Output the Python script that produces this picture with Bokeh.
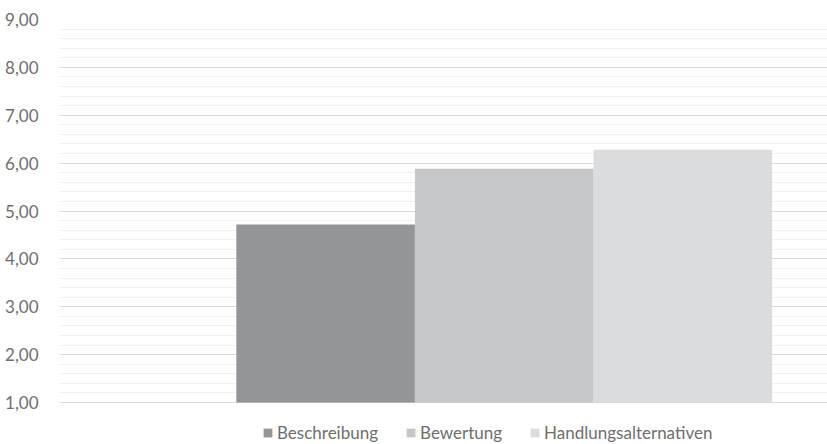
from bokeh.plotting import figure
from bokeh.models import Range1d, FixedTicker, Legend, LegendItem, ColumnDataSource
from bokeh.embed import file_html
from bokeh.resources import INLINE

categories = ["Beschreibung", "Bewertung", "Handlungsalternativen"]
values = [4.72, 5.88, 6.28]
colors = ["#949599", "#c6c7c9", "#dbdcde"]
y_ticks = [1, 2, 3, 4, 5, 6, 7, 8, 9]
y_tick_labels = ["1,00", "2,00", "3,00", "4,00", "5,00", "6,00", "7,00", "8,00", "9,00"]
positions = [0, 1, 2]

FONT = "Lato"

# frame extends below the value 1 to host the legend (42 px below the 1,00 line)
px_per_unit = 383 / 8
y_start = 1 - 42 / px_per_unit

p = figure(frame_width=768, frame_height=425, output_backend="svg", toolbar_location=None,
           x_range=Range1d(-1.49, 2.81), y_range=Range1d(y_start, 9),
           x_axis_location=None, min_border_left=59, min_border_right=0,
           min_border_top=19, min_border_bottom=0)
p.outline_line_color = None

minor = [t + k * 0.2 for t in y_ticks[:-1] for k in range(1, 5)]
ticker = FixedTicker(ticks=y_ticks, minor_ticks=minor)
p.yaxis.ticker = ticker
p.yaxis.major_label_overrides = {t: l for t, l in zip(y_ticks, y_tick_labels)}
p.yaxis.axis_line_color = None
p.yaxis.major_tick_line_color = None
p.yaxis.minor_tick_line_color = None
p.yaxis.major_tick_out = 0
p.yaxis.major_tick_in = 0
p.yaxis.major_label_standoff = 17
p.yaxis.major_label_text_font = FONT
p.yaxis.major_label_text_font_size = "17px"
p.yaxis.major_label_text_color = "#6e6e6e"

p.xgrid.visible = False
p.ygrid.ticker = ticker
p.ygrid.grid_line_color = "#d9d9d9"
p.ygrid.grid_line_width = 1
p.ygrid.minor_grid_line_color = "#f0f0f0"
p.ygrid.minor_grid_line_width = 1

items = []
for x, c, v, col in zip(positions, categories, values, colors):
    src = ColumnDataSource(dict(x=[x], top=[v]))
    r = p.vbar(x="x", top="top", bottom=1, width=1.0, source=src,
               fill_color=col, line_color=None)
    items.append(LegendItem(label=c, renderers=[r]))

legend = Legend(items=items, orientation="horizontal", location=(203, 1),
                padding=0, margin=0, spacing=27, glyph_width=11, glyph_height=11,
                label_standoff=4, label_height=17, label_text_font=FONT,
                label_text_font_size="17px", label_text_color="#6e6e6e",
                border_line_color=None, background_fill_alpha=0)
p.add_layout(legend, "center")

open("out.html", "w").write(file_html(p, INLINE))
